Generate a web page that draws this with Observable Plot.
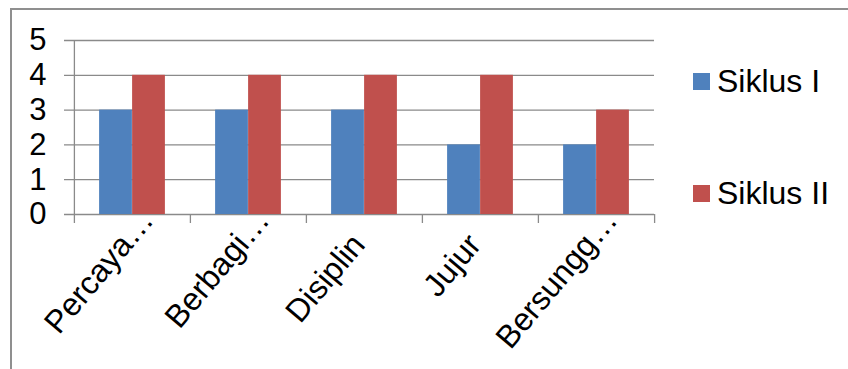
<!DOCTYPE html>
<html>
<head>
<meta charset="utf-8">
<script src="https://cdn.jsdelivr.net/npm/d3@7"></script>
<script src="https://cdn.jsdelivr.net/npm/@observablehq/plot@0.6"></script>
<style>
  html, body { margin: 0; padding: 0; background: #fff; }
  #chart { position: relative; width: 848px; height: 369px; overflow: hidden;
           font-family: "Liberation Sans", Arial, sans-serif; }
  #border { position: absolute; left: 10px; top: 8px; width: 900px; height: 400px;
            border-left: 2px solid #8f8f8f; border-top: 2px solid #8f8f8f; box-sizing: border-box; }
  #plot { position: absolute; left: 0; top: 0; }
  .legend { position: absolute; left: 693px; }
  .legend .item { position: absolute; left: 0; display: flex; align-items: center;
                  height: 34px; font-size: 32px; line-height: 34px; color: #000; white-space: nowrap; }
  .legend .swatch { width: 17px; height: 17px; margin-right: 7px; flex: none; }
</style>
</head>
<body>
<div id="chart">
  <div id="border"></div>
  <div id="plot"></div>
  <div class="legend" id="legend"></div>
</div>
<script>
// Categories, series and values
const categories = ["Percaya…", "Berbagi…", "Disiplin", "Jujur", "Bersungg…"];
const seriesNames = ["Siklus I", "Siklus II"];
const siklusI = [3, 3, 3, 2, 2];
const siklusII = [4, 4, 4, 4, 3];
const yTicks = [0, 1, 2, 3, 4, 5];
const seriesColors = ["#4F81BD", "#C0504D"];

// Layout
const W = 848, H = 369;
const gridLeft = 64, plotLeft = 73, plotRight = 654, plotTop = 40, plotBottom = 214;
const step = (plotRight - plotLeft) / categories.length;
const barW = 33;
const gap = (step - 2 * barW) / 2;
const tickLen = 9;
const font = "Liberation Sans, Arial, sans-serif";
const gridColor = "#8a8a8a";
const labelAngle = -50;
const ELLIPSIS = "…";

const rows = categories.flatMap((c, i) => [
  {category: c, series: seriesNames[0], value: siklusI[i]},
  {category: c, series: seriesNames[1], value: siklusII[i]}
]);

// Truncated category labels: the word is end-aligned under the category and
// the ellipsis runs on past that point.
const stem = d => d.endsWith(ELLIPSIS) ? d.slice(0, -ELLIPSIS.length) : d;
const truncated = categories.filter(d => d.endsWith(ELLIPSIS));
const labelOpts = {frameAnchor: "bottom", rotate: labelAngle, dx: 2, dy: 31, fill: "#000", fontSize: 32};

const chart = Plot.plot({
  width: W,
  height: H,
  marginLeft: gridLeft,
  marginRight: W - plotRight,
  marginTop: plotTop,
  marginBottom: H - plotBottom,
  style: {fontFamily: font, fontSize: "30px", background: "transparent", overflow: "visible"},
  x: {type: "band", domain: categories, range: [plotLeft, plotRight], padding: 0, axis: null},
  y: {domain: [0, 5], axis: null},
  marks: [
    // horizontal gridlines (the 0 line doubles as the category axis)
    Plot.ruleY(yTicks, {y: d => d, stroke: gridColor, strokeWidth: 1.3}),
    // value axis line
    Plot.ruleX([categories[0]], {x: d => d, dx: -step / 2, stroke: gridColor, strokeWidth: 1.3, insetBottom: -tickLen}),
    // category boundary tick marks
    Plot.ruleX(categories.slice(1), {x: d => d, dx: -step / 2, stroke: gridColor, strokeWidth: 1.3,
      insetTop: plotBottom - plotTop, insetBottom: -tickLen}),
    Plot.ruleX([categories[categories.length - 1]], {x: d => d, dx: step / 2, stroke: gridColor, strokeWidth: 1.3,
      insetTop: plotBottom - plotTop, insetBottom: -tickLen}),
    // bars
    Plot.barY(rows.filter(d => d.series === seriesNames[0]), {x: "category", y: "value",
      fill: seriesColors[0], insetLeft: gap, insetRight: gap + barW}),
    Plot.barY(rows.filter(d => d.series === seriesNames[1]), {x: "category", y: "value",
      fill: seriesColors[1], insetLeft: gap + barW, insetRight: gap}),
    // value tick labels
    Plot.text(yTicks, {y: d => d, text: d => String(d), frameAnchor: "left", textAnchor: "end",
      dx: -18, fill: "#000", fontSize: 31}),
    // category labels
    Plot.text(categories, {x: d => d, text: stem, textAnchor: "end", ...labelOpts}),
    Plot.text(truncated, {x: d => d, text: () => ELLIPSIS, textAnchor: "start", ...labelOpts})
  ]
});
document.getElementById("plot").appendChild(chart);

// legend
const legend = document.getElementById("legend");
const legendCenters = [81.3, 193.3];
seriesNames.forEach((name, i) => {
  const item = document.createElement("div");
  item.className = "item";
  item.style.top = (legendCenters[i] - 17) + "px";
  const sw = document.createElement("span");
  sw.className = "swatch";
  sw.style.background = seriesColors[i];
  const label = document.createElement("span");
  label.textContent = name;
  item.appendChild(sw);
  item.appendChild(label);
  legend.appendChild(item);
});
</script>
</body>
</html>
